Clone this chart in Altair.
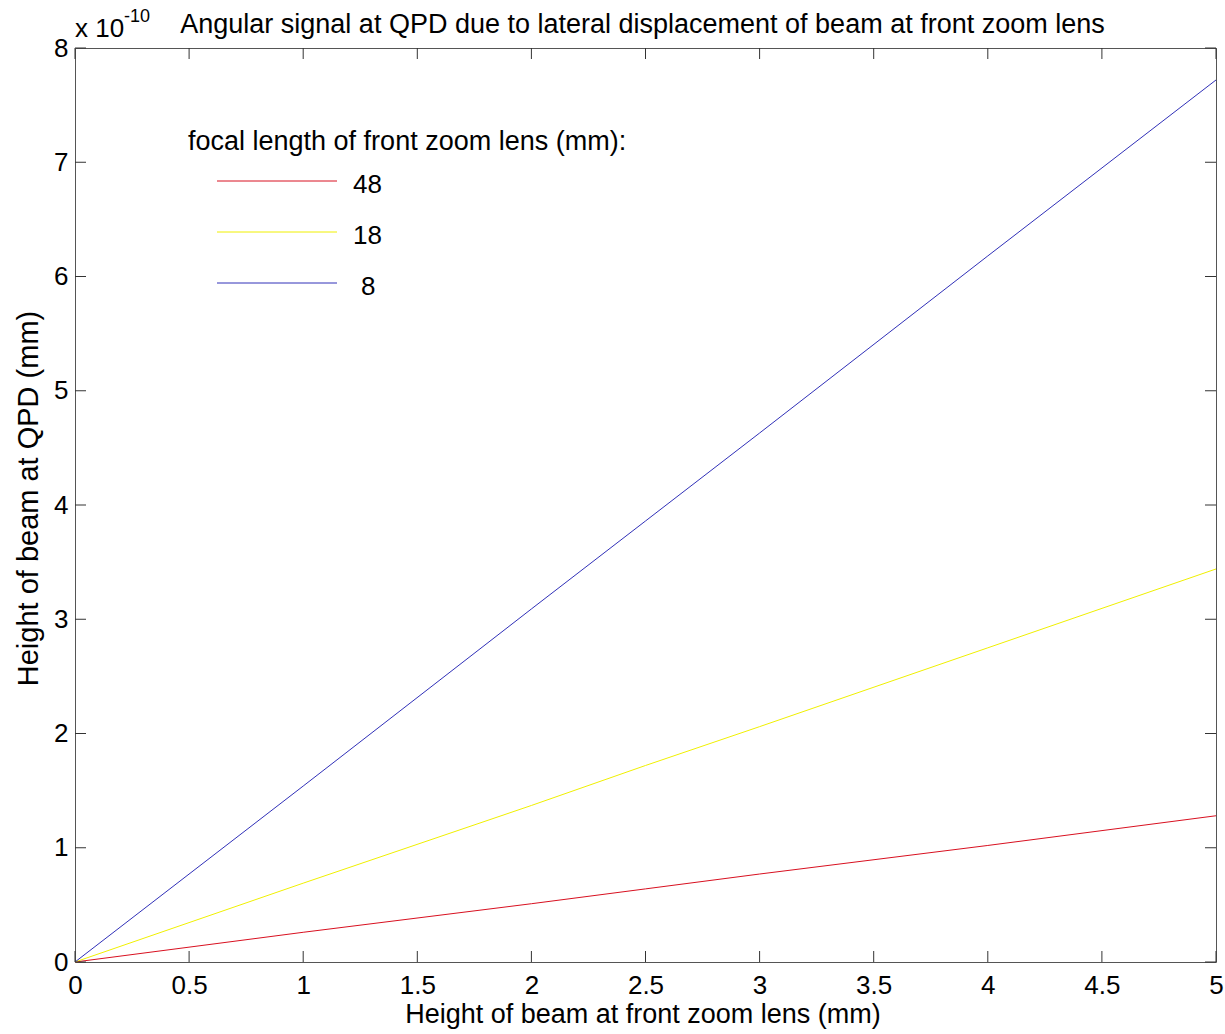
import altair as alt
import pandas as pd

FONT = "Liberation Sans"

# ---- data (values in units of 1e-10 mm) ----
x_vals = [0, 1, 2, 2.5, 3, 4, 5]
y_f48 = [0, 0.26, 0.51, 0.64, 0.77, 1.02, 1.28]
y_f18 = [0, 0.69, 1.37, 1.72, 2.06, 2.75, 3.44]
y_f8 = [0, 1.54, 3.09, 3.86, 4.63, 6.18, 7.72]

series_labels = ["48", "18", "8"]
series_colors = ["#d81020", "#f0f000", "#3030b8"]

x_ticks = [0, 0.5, 1, 1.5, 2, 2.5, 3, 3.5, 4, 4.5, 5]
y_ticks = [0, 1, 2, 3, 4, 5, 6, 7, 8]

TITLE = "Angular signal at QPD due to lateral displacement of beam at front zoom lens"
X_TITLE = "Height of beam at front zoom lens (mm)"
Y_TITLE = "Height of beam at QPD (mm)"
LEGEND_TITLE = "focal length of front zoom lens (mm):"

W, H = 1141, 914

rows = []
for lab, ys in zip(series_labels, [y_f48, y_f18, y_f8]):
    for xv, yv in zip(x_vals, ys):
        rows.append({"focal": lab, "x": xv, "y": yv})
df = pd.DataFrame(rows)

xscale = alt.Scale(domain=[0, 5], nice=False, zero=False)
yscale = alt.Scale(domain=[0, 8], nice=False, zero=False)

lines = alt.Chart(df).mark_line(strokeWidth=1).encode(
    x=alt.X("x:Q", scale=xscale, axis=alt.Axis(
        values=x_ticks, format="~g", labelFontSize=26, labelFont=FONT,
        labelColor="black", labelPadding=31, labelBaseline="alphabetic",
        ticks=False, tickSize=0, domain=False, grid=False,
        title=X_TITLE, titleFontSize=27, titleFont=FONT, titleFontWeight="normal",
        titleColor="black", titleX=W / 2 - 3, titleY=60, titleBaseline="alphabetic",
        labelFlush=False)),
    y=alt.Y("y:Q", scale=yscale, axis=alt.Axis(
        values=y_ticks, format="~g", labelFontSize=26, labelFont=FONT,
        labelColor="black", labelPadding=7, ticks=False, tickSize=0,
        domain=False, grid=False, labelFlush=False,
        title=Y_TITLE, titleFontSize=29, titleFont=FONT, titleFontWeight="normal",
        titleColor="black", titleX=-47, titleY=450, titleAngle=270,
        titleAlign="center", titleBaseline="middle")),
    color=alt.Color("focal:N", scale=alt.Scale(domain=series_labels, range=series_colors), legend=None),
)

xt = pd.DataFrame({"v": x_ticks})
yt = pd.DataFrame({"v": y_ticks})
TL = 11
tick_color = "#333333"
xticks_bottom = alt.Chart(xt).mark_rule(color=tick_color, strokeWidth=1).encode(
    x=alt.X("v:Q", scale=xscale), y=alt.value(H), y2=alt.value(H - TL))
xticks_top = alt.Chart(xt).mark_rule(color=tick_color, strokeWidth=1).encode(
    x=alt.X("v:Q", scale=xscale), y=alt.value(0), y2=alt.value(TL))
yticks_left = alt.Chart(yt).mark_rule(color=tick_color, strokeWidth=1).encode(
    y=alt.Y("v:Q", scale=yscale), x=alt.value(0), x2=alt.value(TL))
yticks_right = alt.Chart(yt).mark_rule(color=tick_color, strokeWidth=1).encode(
    y=alt.Y("v:Q", scale=yscale), x=alt.value(W - TL), x2=alt.value(W))

one = pd.DataFrame({"a": [0]})

def txt(text, x, y, size=27, align="left"):
    return alt.Chart(one).mark_text(
        align=align, baseline="alphabetic", fontSize=size, font=FONT, color="black"
    ).encode(x=alt.value(x), y=alt.value(y), text=alt.value(text))

layers = [lines, xticks_bottom, xticks_top, yticks_left, yticks_right,
          txt(TITLE, W / 2 - 3, -15, align="center"),
          txt("x 10", 0, -11, size=26),
          txt("-10", 49, -26, size=18),
          txt(LEGEND_TITLE, 113, 102)]

label_dx = [0, 0, 8]
for i, (lab, col) in enumerate(zip(series_labels, series_colors)):
    yy = 133 + 51 * i
    layers.append(alt.Chart(one).mark_rule(color=col, strokeWidth=1).encode(
        x=alt.value(142), x2=alt.value(262), y=alt.value(yy)))
    layers.append(txt(lab, 278 + label_dx[i], yy + 12, size=26))

chart = alt.layer(*layers).properties(
    width=W, height=H,
    autosize=alt.AutoSizeParams(type="none"),
    padding={"left": 75, "top": 48, "right": 9, "bottom": 72},
    background="white",
).configure_view(stroke="#555555", strokeWidth=1)

chart.save("out.html", embed_options={"renderer": "svg", "actions": False})
